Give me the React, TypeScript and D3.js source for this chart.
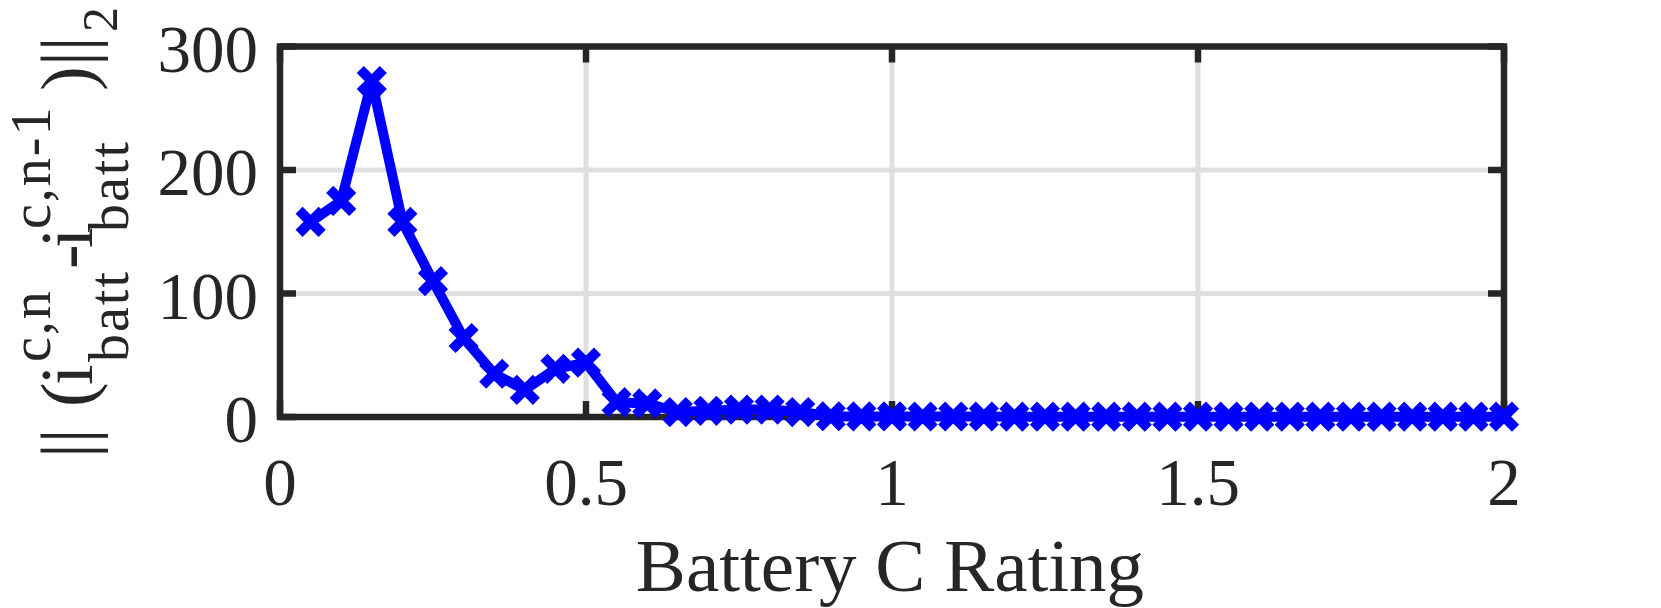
import React, { useEffect, useRef } from "react";
import * as d3 from "d3";

const cRating = [
  0.05, 0.1, 0.15, 0.2, 0.25, 0.3, 0.35, 0.4, 0.45, 0.5, 0.55, 0.6, 0.65, 0.7,
  0.75, 0.8, 0.85, 0.9, 0.95, 1.0, 1.05, 1.1, 1.15, 1.2, 1.25, 1.3, 1.35, 1.4,
  1.45, 1.5, 1.55, 1.6, 1.65, 1.7, 1.75, 1.8, 1.85, 1.9, 1.95, 2.0,
];
const normValues = [
  158, 175, 272, 158, 110, 64, 35, 22, 39, 44, 12, 11, 4, 5, 6, 6, 4, 0.6,
  0.5, 0.5, 0.4, 0.4, 0.4, 0.3, 0.3, 0.3, 0.3, 0.3, 0.3, 0.3, 0.3, 0.3, 0.3,
  0.3, 0.3, 0.3, 0.3, 0.3, 0.3, 0.3,
];
const xTicks = [0, 0.5, 1, 1.5, 2];
const xTickLabels = ["0", "0.5", "1", "1.5", "2"];
const yTicks = [0, 100, 200, 300];
const yTickLabels = ["0", "100", "200", "300"];
const xLabel = "Battery C Rating";

const W = 1661;
const H = 608;
const left = 280;
const right = 1504;
const top = 46.5;
const bottom = 417;
const font = "Liberation Serif, DejaVu Serif, serif";
const ink = "#262626";

const App = () => {
  const svgRef = useRef(null);

  useEffect(() => {
    const svg = d3.select(svgRef.current);
    svg.selectAll("*").remove();

    const xScale = d3.scaleLinear().domain([0, 2]).range([left, right]);
    const yScale = d3.scaleLinear().domain([0, 300]).range([bottom, top]);

    // grid
    const grid = svg.append("g").attr("stroke", "#dfdfdf").attr("stroke-width", 5);
    grid
      .selectAll(".gx")
      .data(xTicks.filter((t) => t > 0 && t < 2))
      .enter()
      .append("line")
      .attr("x1", (d) => xScale(d))
      .attr("x2", (d) => xScale(d))
      .attr("y1", top)
      .attr("y2", bottom);
    grid
      .selectAll(".gy")
      .data(yTicks.filter((t) => t > 0 && t < 300))
      .enter()
      .append("line")
      .attr("x1", left)
      .attr("x2", right)
      .attr("y1", (d) => yScale(d))
      .attr("y2", (d) => yScale(d));

    // box + ticks
    const tl = 16;
    const box = svg.append("g").attr("stroke", ink).attr("stroke-width", 6.5);
    box
      .append("rect")
      .attr("x", left)
      .attr("y", top)
      .attr("width", right - left)
      .attr("height", bottom - top)
      .attr("fill", "none");
    xTicks.forEach((t) => {
      box.append("line").attr("x1", xScale(t)).attr("x2", xScale(t)).attr("y1", bottom).attr("y2", bottom - tl);
      box.append("line").attr("x1", xScale(t)).attr("x2", xScale(t)).attr("y1", top).attr("y2", top + tl);
    });
    yTicks.forEach((t) => {
      box.append("line").attr("x1", left).attr("x2", left + tl).attr("y1", yScale(t)).attr("y2", yScale(t));
      box.append("line").attr("x1", right).attr("x2", right - tl).attr("y1", yScale(t)).attr("y2", yScale(t));
    });

    // tick labels
    svg
      .selectAll(".xt")
      .data(xTicks)
      .enter()
      .append("text")
      .attr("x", (d) => xScale(d))
      .attr("y", 505)
      .attr("text-anchor", "middle")
      .style("font-family", font)
      .attr("font-size", 67)
      .attr("fill", ink)
      .text((d, i) => xTickLabels[i]);
    svg
      .selectAll(".yt")
      .data(yTicks)
      .enter()
      .append("text")
      .attr("x", 258)
      .attr("y", (d) => yScale(d) + 25)
      .attr("text-anchor", "end")
      .style("font-family", font)
      .attr("font-size", 67)
      .attr("fill", ink)
      .text((d, i) => yTickLabels[i]);

    svg
      .append("text")
      .attr("x", 890)
      .attr("y", 591)
      .attr("text-anchor", "middle")
      .style("font-family", font)
      .attr("font-size", 75)
      .attr("fill", ink)
      .text(xLabel);

    // y label, rotated, built piece by piece
    const yl = svg
      .append("g")
      .attr("transform", "translate(92, 453) rotate(-90)")
      .style("font-family", font)
      .attr("fill", ink);
    const pieces = [
      { t: "||", x: -5, dy: 0, s: 74 },
      { t: "(", x: 46, dy: 0, s: 74 },
      { t: "i", x: 68, dy: 0, s: 74 },
      { t: "c,n", x: 91, dy: -42, s: 56 },
      { t: "batt", x: 91, dy: 36, s: 56 },
      { t: "-", x: 184, dy: 0, s: 74 },
      { t: "i", x: 205, dy: 0, s: 74 },
      { t: "c,n-1", x: 224, dy: -42, s: 56 },
      { t: "batt", x: 221, dy: 36, s: 56 },
      { t: ")", x: 362, dy: 0, s: 74 },
      { t: "||", x: 387, dy: 0, s: 74 },
      { t: "2", x: 421, dy: 25, s: 50 },
    ];
    pieces.forEach((p) => {
      yl.append("text")
        .attr("x", p.x)
        .attr("y", p.dy)
        .attr("font-size", p.s)
        .attr("letter-spacing", p.s < 70 ? 2 : 0)
        .text(p.t);
    });

    // data
    const pts = cRating.map((c, i) => [xScale(c), yScale(normValues[i])]);
    svg
      .append("path")
      .attr("d", d3.line()(pts))
      .attr("fill", "none")
      .attr("stroke", "#0000ff")
      .attr("stroke-width", 10)
      .attr("stroke-linejoin", "round");
    svg
      .selectAll(".mk")
      .data(pts)
      .enter()
      .append("path")
      .attr("transform", (d) => `translate(${d[0]},${d[1]})`)
      .attr("d", "M-8,-8L8,8M-8,8L8,-8")
      .attr("stroke", "#0000ff")
      .attr("stroke-width", 10)
      .attr("stroke-linecap", "square")
      .attr("fill", "none");
  }, []);

  return (
    <div style={{ position: "absolute", left: 0, top: 0, width: W, height: H, background: "#fff" }}>
      <svg ref={svgRef} width={W} height={H}></svg>
    </div>
  );
};

export default App;
